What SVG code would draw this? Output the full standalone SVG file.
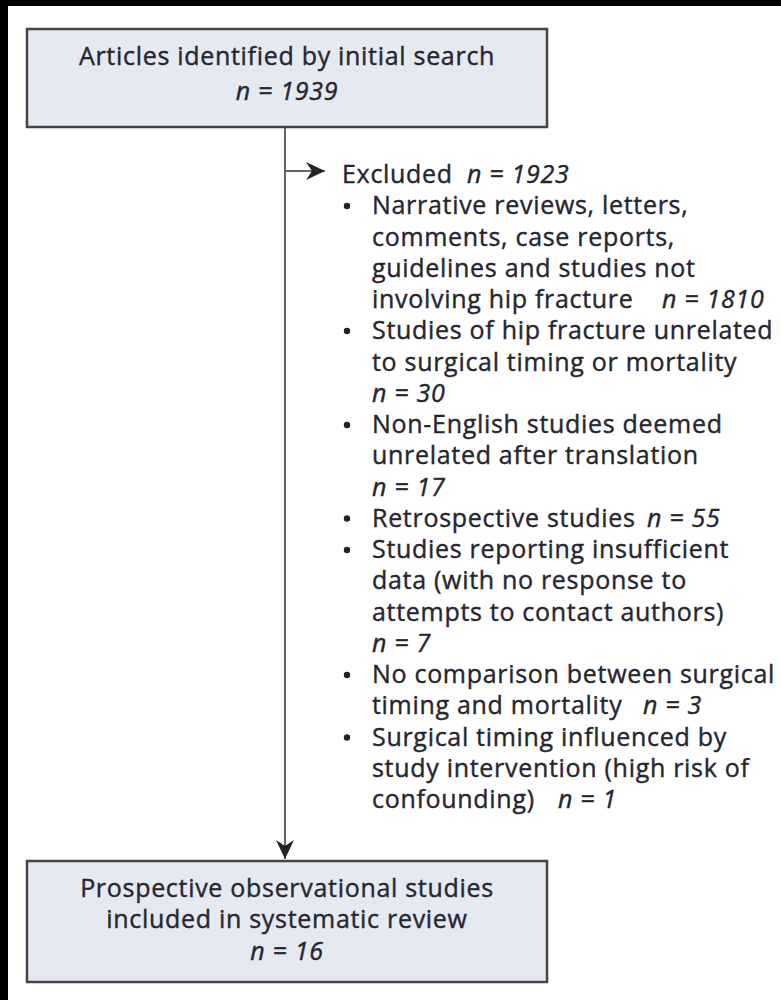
<svg xmlns="http://www.w3.org/2000/svg" width="781" height="1000" viewBox="0 0 781 1000">
<defs>
<style>
text{font-family:"Open Sans","Noto Sans","DejaVu Sans",sans-serif;font-size:25px;letter-spacing:0.7px;font-weight:500;fill:#262630;stroke:#262630;stroke-width:0.4px}
.c{text-anchor:middle}
.i{font-style:italic}
.box{fill:#e5e9f2;stroke:#444;stroke-width:2.5}
.ln{stroke:#666;stroke-width:2;fill:none}
.b{fill:#222}
</style>
<marker id="ah" viewBox="0 0 20 20" refX="19" refY="10" markerWidth="20" markerHeight="20" markerUnits="userSpaceOnUse" orient="auto">
<path d="M0,1 L19,10 L0,19 L6,10 Z" fill="#222"/>
</marker>
</defs>
<rect x="0" y="0" width="781" height="1000" fill="#000"/>
<rect x="8" y="6" width="773" height="994" fill="#fff"/>
<g id="connectors">
<line class="ln" x1="285" y1="128" x2="285" y2="859" marker-end="url(#ah)"/>
<line class="ln" x1="285" y1="171" x2="325" y2="171" marker-end="url(#ah)"/>
</g>
<g id="node-initial">
<rect class="box" x="27" y="29" width="520" height="98"/>
<text class="c" x="287" y="65">Articles identified by initial search</text>
<text class="c i" x="287" y="100">n = 1939</text>
</g>
<g id="node-excluded">
<text x="342" y="183">Excluded</text><text class="i" x="467" y="183">n = 1923</text>
<circle class="b" cx="347" cy="206" r="3.2"/><text x="372" y="214.25">Narrative reviews, letters,</text>
<text x="372" y="245.5">comments, case reports,</text>
<text x="372" y="276.75">guidelines and studies not</text>
<text x="372" y="308">involving hip fracture</text><text class="i" x="662" y="308">n = 1810</text>
<circle class="b" cx="347" cy="331" r="3.2"/><text x="372" y="339.25">Studies of hip fracture unrelated</text>
<text x="372" y="370.5">to surgical timing or mortality</text>
<text class="i" x="372" y="401.75">n = 30</text>
<circle class="b" cx="347" cy="425" r="3.2"/><text x="372" y="433">Non-English studies deemed</text>
<text x="372" y="464.25">unrelated after translation</text>
<text class="i" x="372" y="495.5">n = 17</text>
<circle class="b" cx="347" cy="518.5" r="3.2"/><text x="372" y="526.75">Retrospective studies</text><text class="i" x="647" y="526.75">n = 55</text>
<circle class="b" cx="347" cy="550" r="3.2"/><text x="372" y="558">Studies reporting insufficient</text>
<text x="372" y="589.25">data (with no response to</text>
<text x="372" y="620.5">attempts to contact authors)</text>
<text class="i" x="372" y="651.75">n = 7</text>
<circle class="b" cx="347" cy="675" r="3.2"/><text x="372" y="683">No comparison between surgical</text>
<text x="372" y="714.25">timing and mortality</text><text class="i" x="643" y="714.25">n = 3</text>
<circle class="b" cx="347" cy="737.5" r="3.2"/><text x="372" y="745.5">Surgical timing influenced by</text>
<text x="372" y="776.75">study intervention (high risk of</text>
<text x="372" y="808">confounding)</text><text class="i" x="558" y="808">n = 1</text>
</g>
<g id="node-included">
<rect class="box" x="27" y="861" width="520" height="121"/>
<text class="c" x="287" y="897">Prospective observational studies</text>
<text class="c" x="287" y="928">included in systematic review</text>
<text class="c i" x="287" y="960">n = 16</text>
</g>
</svg>
